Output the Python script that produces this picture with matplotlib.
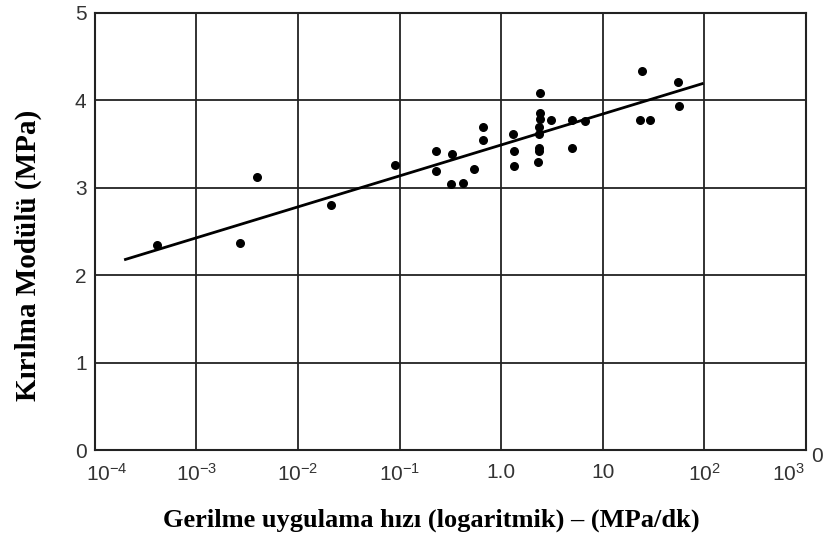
import matplotlib
matplotlib.use("Agg")
import matplotlib.pyplot as plt
import matplotlib.transforms as mtransforms
import numpy as np

# Data
rate = [4.1e-4, 2.7e-3, 3.9e-3, 0.021, 0.089, 0.23, 0.23, 0.33, 0.32, 0.42,
        0.54, 0.66, 0.66, 1.3, 1.35, 1.35, 2.4, 2.4, 2.4, 2.35, 2.35,
        2.35, 2.35, 2.3, 3.1, 5.0, 6.6, 5.0, 24.5, 23, 29, 55, 56]
modulus = [2.34, 2.37, 3.12, 2.80, 3.26, 3.42, 3.19, 3.39, 3.04, 3.05,
           3.22, 3.70, 3.55, 3.61, 3.42, 3.25, 4.08, 3.85, 3.79, 3.69, 3.62,
           3.46, 3.42, 3.30, 3.78, 3.77, 3.76, 3.45, 4.33, 3.78, 3.78, 4.21, 3.94]
fit_x = [2.0e-4, 95.0]
fit_y = [2.18, 4.19]

xticks = [1e-4, 1e-3, 1e-2, 1e-1, 1, 10, 100, 1000]
xticklabels = [r"$10^{-4}$", r"$10^{-3}$", r"$10^{-2}$", r"$10^{-1}$", "1.0", "10",
               r"$10^{2}$", r"$10^{3}$"]
yticks = [0, 1, 2, 3, 4, 5]

plt.rcParams['mathtext.fontset'] = 'custom'
plt.rcParams['mathtext.rm'] = 'Liberation Sans'
plt.rcParams['mathtext.it'] = 'Liberation Sans'

fig = plt.figure(figsize=(8.25, 5.37), dpi=100)
ax = fig.add_axes([0.115, 0.162, 0.862, 0.814])
ax.set_xscale('log')
ax.set_xlim(1e-4, 1e3)
ax.set_ylim(0, 5)

ax.set_xticks(xticks)
ax.set_xticklabels(xticklabels, fontfamily='Liberation Sans', fontsize=15, color='#333333')
ax.xaxis.set_minor_locator(matplotlib.ticker.NullLocator())
ax.set_yticks(yticks)
ax.set_yticklabels([str(v) for v in yticks], fontfamily='Liberation Sans', fontsize=15, color='#333333')
ax.tick_params(axis='y', length=0, pad=6)
ax.tick_params(axis='x', length=0, pad=9)

# nudge first and last x tick labels like the reference
labels = ax.get_xticklabels()
labels[0].set_transform(labels[0].get_transform() +
                        mtransforms.ScaledTranslation(12 / 100, 0, fig.dpi_scale_trans))
labels[-1].set_transform(labels[-1].get_transform() +
                         mtransforms.ScaledTranslation(-18 / 100, 0, fig.dpi_scale_trans))

ax.grid(True, color='#222222', linewidth=1.3)
ax.set_axisbelow(True)
for s in ax.spines.values():
    s.set_color('#222222')
    s.set_linewidth(1.5)

ax.plot(fit_x, fit_y, color='black', linewidth=2.0, zorder=3)
ax.scatter(rate, modulus, s=30, color='black', zorder=4)

ax.set_xlabel("Gerilme uygulama hızı (logaritmik) – (MPa/dk)", fontfamily='Liberation Serif',
              fontweight='bold', fontsize=19, va='center')
ax.xaxis.set_label_coords(0.473, -0.16)
ax.set_ylabel("Kırılma Modülü (MPa)", fontfamily='Liberation Serif',
              fontweight='bold', fontsize=21, va='center')
ax.yaxis.set_label_coords(-0.094, 0.445)

fig.text(0.99, 0.150, "0", fontfamily='Liberation Sans', fontsize=15, color='#333333',
         ha='center', va='center')

fig.savefig("out.png", dpi=100)
